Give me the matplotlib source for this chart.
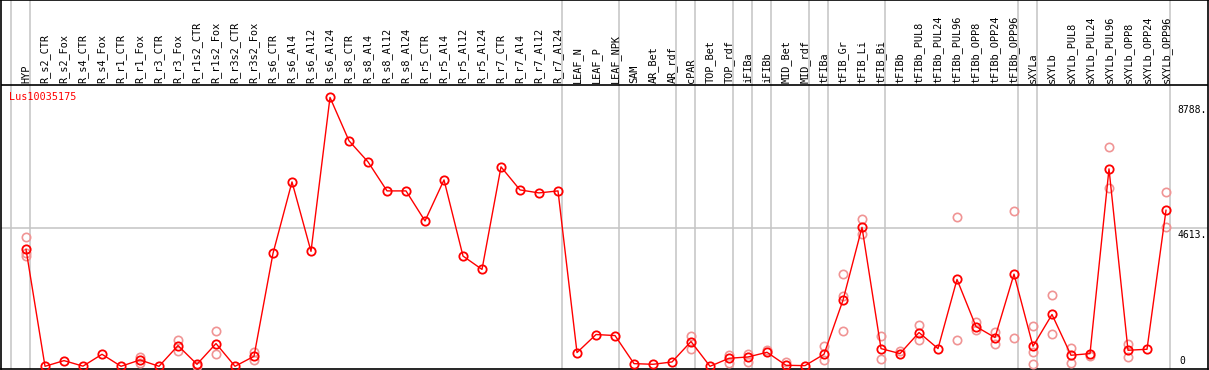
import matplotlib
matplotlib.use("Agg")
import matplotlib.pyplot as plt

# ---------------- data ----------------
gene = "Lus10035175"
samples = ["HYP", "R_s2_CTR", "R_s2_Fox", "R_s4_CTR", "R_s4_Fox", "R_r1_CTR", "R_r1_Fox",
           "R_r3_CTR", "R_r3_Fox", "R_r1s2_CTR", "R_r1s2_Fox", "R_r3s2_CTR", "R_r3s2_Fox",
           "R_s6_CTR", "R_s6_Al4", "R_s6_Al12", "R_s6_Al24", "R_s8_CTR", "R_s8_Al4",
           "R_s8_Al12", "R_s8_Al24", "R_r5_CTR", "R_r5_Al4", "R_r5_Al12", "R_r5_Al24",
           "R_r7_CTR", "R_r7_Al4", "R_r7_Al12", "R_r7_Al24", "LEAF_N", "LEAF_P", "LEAF_NPK",
           "SAM", "AR_Bet", "AR_rdf", "cPAR", "TOP_Bet", "TOP_rdf", "iFIBa", "iFIBb",
           "MID_Bet", "MID_rdf", "tFIBa", "tFIB_Gr", "tFIB_Li", "tFIB_Bi", "tFIBb",
           "tFIBb_PUL8", "tFIBb_PUL24", "tFIBb_PUL96", "tFIBb_OPP8", "tFIBb_OPP24",
           "tFIBb_OPP96", "sXYLa", "sXYLb", "sXYLb_PUL8", "sXYLb_PUL24", "sXYLb_PUL96",
           "sXYLb_OPP8", "sXYLb_OPP24", "sXYLb_OPP96"]

mean_values = [3909, 0, 190, 5, 402, 0, 212, 0, 693, 67, 760, 0, 335,
               3775, 6164, 3842, 8988, 7538, 6834, 5863, 5863, 4858, 6231, 3685, 3239,
               6667, 5896, 5796, 5863, 459, 1062, 1028, 89, 67, 145, 827, 0, 268, 312,
               469, 34, 22, 402, 2211, 4646, 592, 425, 1129, 592, 2904, 1329, 961, 3082,
               670, 1732, 369, 425, 6600, 536, 570, 5216]

replicates = [[4311, 3775, 3685], [], [], [], [], [], [312, 112], [], [871, 514], [0],
              [1173, 402], [], [480, 201],
              [], [], [], [], [], [], [], [], [], [], [], [], [], [], [], [],
              [], [], [], [], [], [], [1028, 581], [], [379, 100], [425, 134], [536],
              [145], [], [670, 223], [3082, 2355, 1173], [4925, 4432], [1028, 234], [514],
              [1396, 894], [], [4981, 871], [1474, 1206], [1150, 760], [5182, 938],
              [1350, 480, 89], [2368, 1095], [603, 112], [346], [7337, 5963], [760, 312],
              [], [4646, 5829]]

# indices of the last sample in each group (vertical separators)
group_ends = [-1, 0, 28, 31, 34, 35, 37, 38, 39, 41, 42, 45, 52, 53, 60]

ytick_values = [8788, 4613, 0]
ytick_labels = ["8788.", "4613.", "0"]

# ---------------- layout ----------------
W, H = 1209, 370
fig = plt.figure(figsize=(W / 100, H / 100), dpi=100)
ax = fig.add_axes([1 / W, 1 - 369 / H, 1207 / W, 369 / H])

px_per_col = 19.0
x0_px = 26.0
zero_px = 366.3
px_per_unit = (366.3 - 228.3) / 4613.0


def xdat(px):
    return (px - x0_px) / px_per_col


def ydat(py):
    return (zero_px - py) / px_per_unit


ax.set_xlim(xdat(1), xdat(1208))
ax.set_ylim(ydat(369), ydat(0))
ax.set_xticks([])
ax.set_yticks([])
for s in ax.spines.values():
    s.set_color("black")
    s.set_linewidth(1.2)

grid_col = "#c4c4c4"
# vertical separators
for g in group_ends:
    ax.axvline(g + 4 / px_per_col, color=grid_col, lw=1.1, zorder=1)
# horizontal gridline
ax.axhline(4613, color=grid_col, lw=1.1, zorder=1)
# black line under labels
ax.axhline(ydat(85), color="black", lw=1.2, zorder=2)

mono = "DejaVu Sans Mono"
# column labels
for i, name in enumerate(samples):
    ax.text(i, ydat(83), name, rotation=90, ha="center", va="bottom",
            fontsize=7.4, family=mono, color="black")

# gene name
ax.text(xdat(9), ydat(97), gene, ha="left", va="center", fontsize=7.3,
        family=mono, color="red")

# right-side value labels
for v, lab in zip(ytick_values, ytick_labels):
    if v == 0:
        ax.text(xdat(1179), v, lab, ha="left", va="bottom", fontsize=7.0, family=mono)
    else:
        ax.text(xdat(1177), v - 60, lab, ha="left", va="top", fontsize=7.0, family=mono)

# replicates
for i, reps in enumerate(replicates):
    for r in reps:
        ax.plot(i, r, marker="o", ms=6.0, mfc="none", mec="#f09494", mew=1.2,
                zorder=3, linestyle="none")

# mean line
xs = list(range(len(mean_values)))
ax.plot(xs, mean_values, color="red", lw=1.0, zorder=4)
ax.plot(xs, mean_values, linestyle="none", marker="o", ms=6.0, mfc="none",
        mec="red", mew=1.3, zorder=5)

fig.savefig("out.png", dpi=100)
